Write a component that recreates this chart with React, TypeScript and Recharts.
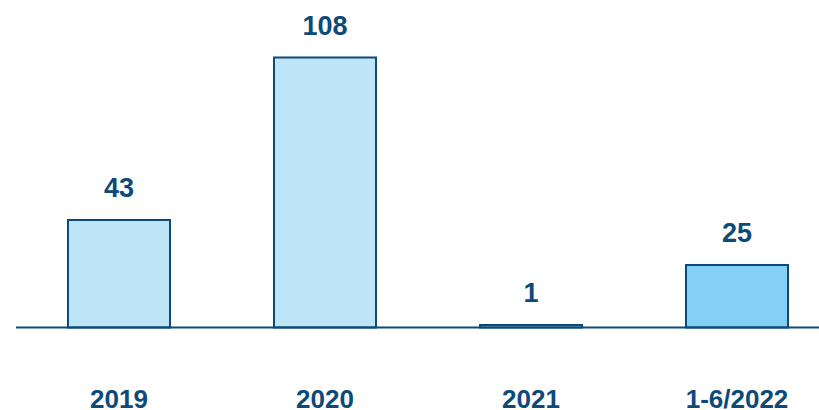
import { BarChart, Bar, XAxis, YAxis, Cell, LabelList } from "recharts";

// ─── Data ─────────────────────────────────────────────────────────────────────

const periods = ["2019", "2020", "2021", "1-6/2022"];
const counts = [43, 108, 1, 25];
const highlightPeriod = "1-6/2022";

const yDomain: [number, number] = [0, 120];

// ─── Styles ───────────────────────────────────────────────────────────────────

const NAVY = "#0c4a7a";
const FILL = "#bee4f8";
const FILL_HIGHLIGHT = "#84cff4";
const FONT = "'Liberation Sans', Arial, Helvetica, sans-serif";

const chartData = periods.map((period, i) => ({ period, count: counts[i] }));

export default function App() {
  return (
    <div
      style={{
        position: "fixed",
        top: 0,
        left: 0,
        width: 819,
        height: 410,
        overflow: "hidden",
        background: "#fff",
      }}
    >
      {/* plot area runs past the right edge so the baseline bleeds off */}
      <BarChart
        width={840}
        height={410}
        data={chartData}
        margin={{ top: 27.5, right: 0, left: 16, bottom: 0 }}
        barSize={102}
      >
        <XAxis
          dataKey="period"
          height={82.5}
          axisLine={{ stroke: NAVY, strokeWidth: 2 }}
          tickLine={false}
          tickSize={0}
          tickMargin={62}
          interval={0}
          tick={{ fill: NAVY, fontSize: 26, fontWeight: 700, fontFamily: FONT }}
        />
        <YAxis hide domain={yDomain} />
        <Bar
          dataKey="count"
          stroke={NAVY}
          strokeWidth={2}
          isAnimationActive={false}
        >
          {chartData.map((d) => (
            <Cell
              key={d.period}
              fill={d.period === highlightPeriod ? FILL_HIGHLIGHT : FILL}
            />
          ))}
          <LabelList
            dataKey="count"
            position="top"
            offset={23}
            fill={NAVY}
            style={{ fontSize: 27, fontWeight: 700, fontFamily: FONT }}
          />
        </Bar>
      </BarChart>
    </div>
  );
}
